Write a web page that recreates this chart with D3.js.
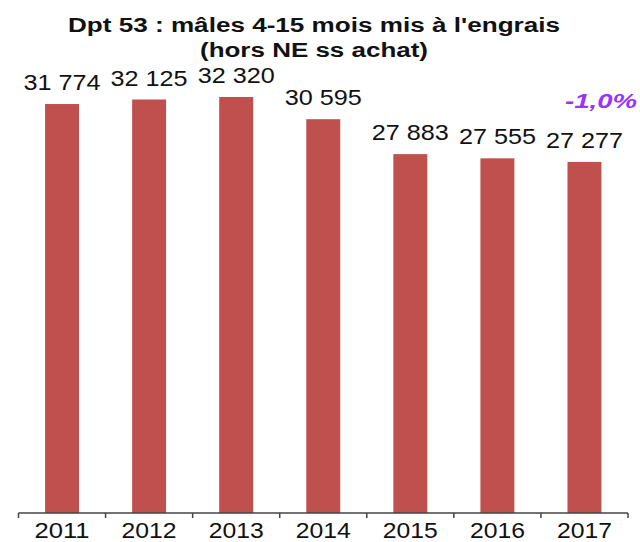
<!DOCTYPE html>
<html>
<head>
<meta charset="utf-8">
<script src="https://cdn.jsdelivr.net/npm/d3@7"></script>
<style>
  body { margin: 0; background: #fff; }
  svg { font-family: Arial, "Liberation Sans", sans-serif; }
</style>
</head>
<body>
<div id="chart"></div>
<script>
// data
const years = ["2011", "2012", "2013", "2014", "2015", "2016", "2017"]
const values = [31774, 32125, 32320, 30595, 27883, 27555, 27277]
const labels = ["31 774", "32 125", "32 320", "30 595", "27 883", "27 555", "27 277"]
const titleLines = ["Dpt 53 : mâles 4-15 mois mis à l'engrais", "(hors NE ss achat)"]
const evolution = "-1,0%"

const W = 640, H = 542
const baseline = 513

const svg = d3.select("#chart").append("svg")
    .attr("width", W)
    .attr("height", H)

// the original picture is stretched sideways: force text widths
function widen(sel, len) {
    sel.attr("textLength", len)
        .attr("lengthAdjust", "spacingAndGlyphs")
}

// title
const titleWidths = [492, 228]
svg.selectAll("text.title")
    .data(titleLines)
    .enter().append("text")
    .attr("class", "title")
    .attr("x", 314)
    .attr("y", function (d, i) { return 32 + i * 25; })
    .attr("text-anchor", "middle")
    .attr("textLength", function (d, i) { return titleWidths[i]; })
    .attr("lengthAdjust", "spacingAndGlyphs")
    .style("font-size", "19.5px")
    .style("font-weight", "bold")
    .style("fill", "#111")
    .text(function (d) { return d; })

// scales
const x = d3.scaleBand()
    .domain(years)
    .range([18.5, 628])
    .paddingInner(0.61)
    .paddingOuter(0.305)

const y = d3.scaleLinear()
    .domain([0, 32320])
    .range([baseline, 97])

// bars
svg.selectAll(".bar")
    .data(values)
    .enter().append("rect")
    .attr("class", "bar")
    .attr("x", function (d, i) { return x(years[i]); })
    .attr("y", function (d) { return y(d); })
    .attr("width", x.bandwidth())
    .attr("height", function (d) { return baseline - y(d); })
    .style("fill", "#c0504d")

// value labels
const vals = svg.selectAll(".label")
    .data(values)
    .enter().append("text")
    .attr("class", "label")
    .attr("x", function (d, i) { return x(years[i]) + x.bandwidth() / 2; })
    .attr("y", function (d) { return y(d) - 14; })
    .attr("text-anchor", "middle")
    .style("font-size", "22px")
    .style("fill", "#111")
    .text(function (d, i) { return labels[i]; })
widen(vals, 77)

// evolution note
const evo = svg.append("text")
    .attr("x", 601)
    .attr("y", 108)
    .attr("text-anchor", "middle")
    .style("font-size", "19.5px")
    .style("font-weight", "bold")
    .style("font-style", "italic")
    .style("fill", "#9933ff")
    .text(evolution)
widen(evo, 72)

// x axis, ticks sit between the categories
const xAxis = d3.axisBottom(x)
    .tickSize(0)
    .tickPadding(10)

const gx = svg.append("g")
    .attr("transform", "translate(0," + baseline + ")")
    .call(xAxis)
gx.select(".domain").remove()
const tickText = gx.selectAll("text")
    .style("font-size", "21.5px")
    .style("font-family", "Arial, 'Liberation Sans', sans-serif")
    .style("fill", "#111")
widen(tickText, 55)

gx.append("line")
    .attr("x1", 18.5)
    .attr("x2", 628)
    .attr("y1", 0)
    .attr("y2", 0)
    .style("stroke", "#444")
    .style("stroke-width", 1.5)

const step = x.step()
const edges = years.map(function (d) { return x(d) - step * x.paddingInner() / 2; })
edges.push(x(years[years.length - 1]) + x.bandwidth() + step * x.paddingInner() / 2)
gx.selectAll("line.sep")
    .data(edges)
    .enter().append("line")
    .attr("class", "sep")
    .attr("x1", function (d) { return d; })
    .attr("x2", function (d) { return d; })
    .attr("y1", 0)
    .attr("y2", 5)
    .style("stroke", "#444")
    .style("stroke-width", 1.5)
</script>
</body>
</html>
